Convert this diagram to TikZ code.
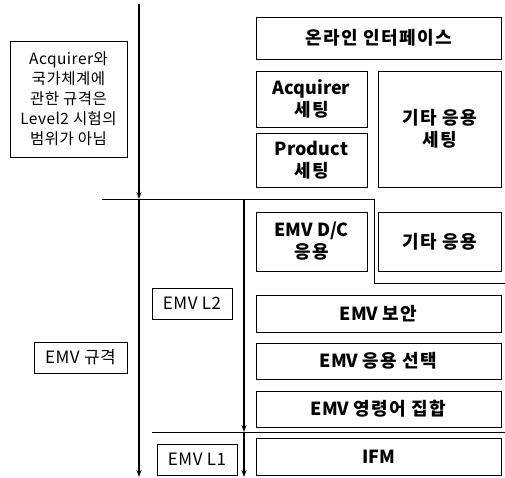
\documentclass[tikz,border=0pt]{standalone}
\usepackage{fontspec}
\setmainfont{Noto Sans CJK KR}
\newcommand{\kosp}{\addfontfeatures{LetterSpace=8}}
\usetikzlibrary{arrows.meta}
\begin{document}
\begin{tikzpicture}[x=1pt,y=-1pt,
  lbox/.style={draw, line width=0.8pt, align=center, inner sep=0pt, font=\fontsize{17}{21}\selectfont\addfontfeatures{LetterSpace=3}},
  nbox/.style={draw, line width=0.8pt, align=center, inner sep=0pt, font=\fontsize{15.5}{20}\selectfont\addfontfeatures{LetterSpace=3}},
  rbox/.style={draw, line width=0.8pt, align=center, inner sep=0pt, font=\fontsize{18}{22}\selectfont\bfseries},
  vline/.style={line width=1.3pt},
  hline/.style={line width=0.9pt},
  tip/.style={-{Stealth[length=7pt,width=5pt]}}
]
\useasboundingbox (0,0) rectangle (505,478);
% left side boxes
\node[nbox, minimum width=117pt, minimum height=116pt] (note) at (68.5,99) {Acquirer와\\국가체계에\\관한 규격은\\Level2 시험의\\범위가 아님};
\node[lbox, minimum width=93pt, minimum height=31pt] (spec) at (80.5,357.5) {EMV 규격};
\node[lbox, minimum width=80pt, minimum height=31pt] (ltwo) at (192,303.5) {EMV L2};
\node[lbox, minimum width=80pt, minimum height=31pt] (lone) at (197,459.5) {EMV L1};
% right side boxes
\node[rbox, minimum width=245pt, minimum height=42pt] (online) at (378.5,38) {{\kosp 온라인 인터페이스}};
\node[rbox, minimum width=111pt, minimum height=56pt] (acq) at (311.5,99) {Acquirer\\{\kosp 세팅}};
\node[rbox, minimum width=111pt, minimum height=54pt] (prod) at (311.5,160) {Product\\{\kosp 세팅}};
\node[rbox, minimum width=123pt, minimum height=116pt] (otherset) at (439.5,129) {{\kosp 기타 응용}\\{\kosp 세팅}};
\node[rbox, minimum width=111pt, minimum height=59pt] (dc) at (311.5,241.5) {EMV D/C\\{\kosp 응용}};
\node[rbox, minimum width=123pt, minimum height=59pt] (other) at (439.5,241.5) {{\kosp 기타 응용}};
\node[rbox, minimum width=245pt, minimum height=37pt] (sec) at (378.5,313.5) {EMV {\kosp 보안}};
\node[rbox, minimum width=245pt, minimum height=36pt] (sel) at (378.5,361) {EMV {\kosp 응용 선택}};
\node[rbox, minimum width=245pt, minimum height=36pt] (cmd) at (378.5,409) {EMV {\kosp 영령어 집합}};
\node[rbox, minimum width=245pt, minimum height=37pt] (ifm) at (378.5,456.5) {IFM};
% coordinates
\coordinate (atop) at (139,4);
\coordinate (amid) at (139,199);
\coordinate (abot) at (139,477);
\coordinate (hleft) at (102,199);
\coordinate (hcorner) at (374,199);
\coordinate (hdown) at (374,283);
\coordinate (hright) at (505,283);
\coordinate (btop) at (244,199);
\coordinate (bmid) at (244,432);
\coordinate (bbot) at (244,477);
\coordinate (gleft) at (152,432);
\coordinate (gright) at (505,432);
% lines
\draw[hline] (hleft) -- (hcorner) -- (hdown) -- (hright);
\draw[hline] (gleft) -- (gright);
\draw[vline, tip] (atop) -- (amid);
\draw[vline, tip] (amid) -- (abot);
\draw[vline, tip] (btop) -- (bmid);
\draw[vline, tip] (bmid) -- (bbot);
\end{tikzpicture}
\end{document}
